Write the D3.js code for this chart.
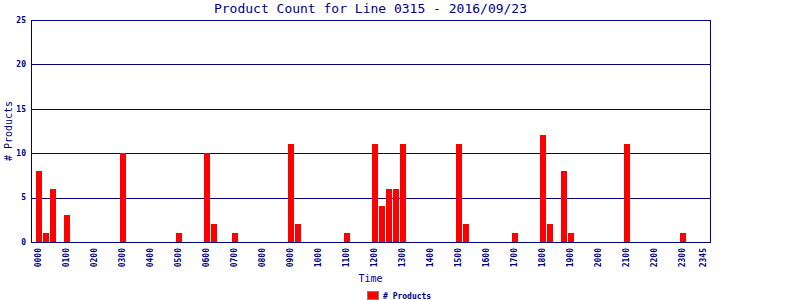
<!DOCTYPE html>
<html>
<head>
<meta charset="utf-8">
<script src="https://cdn.jsdelivr.net/npm/d3@7/dist/d3.min.js"></script>
<style>
  html, body { margin: 0; padding: 0; background: #fff; }
  svg { display: block; }
  text { font-family: "DejaVu Sans Mono", monospace; fill: #000080; }
</style>
</head>
<body>
<svg id="chart" width="800" height="300"></svg>
<script>
// ---- data ----
const title = "Product Count for Line 0315 - 2016/09/23";
const xTitle = "Time";
const yTitle = "# Products";
const seriesName = "# Products";
// 15-minute slots, 4 per hour, 0000 .. 2345
const products = [
  8, 1, 6, 0,   // 00
  3, 0, 0, 0,   // 01
  0, 0, 0, 0,   // 02
  10, 0, 0, 0,  // 03
  0, 0, 0, 0,   // 04
  1, 0, 0, 0,   // 05
  10, 2, 0, 0,  // 06
  1, 0, 0, 0,   // 07
  0, 0, 0, 0,   // 08
  11, 2, 0, 0,  // 09
  0, 0, 0, 0,   // 10
  1, 0, 0, 0,   // 11
  11, 4, 6, 6,  // 12
  11, 0, 0, 0,  // 13
  0, 0, 0, 0,   // 14
  11, 2, 0, 0,  // 15
  0, 0, 0, 0,   // 16
  1, 0, 0, 0,   // 17
  12, 2, 0, 8,  // 18
  1, 0, 0, 0,   // 19
  0, 0, 0, 0,   // 20
  11, 0, 0, 0,  // 21
  0, 0, 0, 0,   // 22
  1, 0, 0, 0    // 23
];
const xTickLabels = ["0000","0100","0200","0300","0400","0500","0600","0700","0800","0900",
  "1000","1100","1200","1300","1400","1500","1600","1700","1800","1900",
  "2000","2100","2200","2300","2345"];
const yTicks = [0, 5, 10, 15, 20, 25];

// ---- layout ----
const svg = d3.select("#chart");
const pL = 31, pR = 710, pT = 20, pB = 242;
const nSlots = products.length;
const x = d3.scaleLinear().domain([-1, nSlots]).range([pL, pR]);
const y = d3.scaleLinear().domain([0, 25]).range([pB, pT]);
const slotOf = s => (+s.slice(0, 2)) * 4 + (+s.slice(2)) / 15;
const navy = "#000080";

// grid lines
svg.append("g").selectAll("line").data(yTicks.filter(d => d > 0)).join("line")
  .attr("x1", pL).attr("x2", pR)
  .attr("y1", d => Math.round(y(d)) + 0.5).attr("y2", d => Math.round(y(d)) + 0.5)
  .attr("stroke", navy).attr("stroke-width", 1).attr("shape-rendering", "crispEdges");

// bars
svg.append("g").selectAll("rect").data(products.map((v, i) => ({ v, i })).filter(d => d.v > 0)).join("rect")
  .attr("x", d => Math.round(x(d.i)) - 2)
  .attr("width", 6)
  .attr("y", d => Math.round(y(d.v)))
  .attr("height", d => pB - Math.round(y(d.v)))
  .attr("fill", "#ff0000")
  .attr("shape-rendering", "crispEdges");

// frame: left, right, bottom, top
const frame = svg.append("g").attr("stroke", navy).attr("stroke-width", 1).attr("shape-rendering", "crispEdges");
frame.append("line").attr("x1", pL + 0.5).attr("x2", pL + 0.5).attr("y1", pT).attr("y2", pB + 1);
frame.append("line").attr("x1", pR + 0.5).attr("x2", pR + 0.5).attr("y1", pT).attr("y2", pB + 1);
frame.append("line").attr("x1", pL).attr("x2", pR + 1).attr("y1", pB + 0.5).attr("y2", pB + 0.5);
frame.append("line").attr("x1", pL).attr("x2", pR + 1).attr("y1", pT + 0.5).attr("y2", pT + 0.5);

// y tick labels
svg.append("g").selectAll("text").data(yTicks).join("text")
  .attr("x", pL - 5).attr("y", d => y(d)).attr("dy", "0.35em")
  .attr("text-anchor", "end")
  .attr("font-size", 8).attr("font-weight", "bold")
  .text(d => d);

// x tick labels (rotated)
svg.append("g").selectAll("text").data(xTickLabels).join("text")
  .attr("transform", d => `translate(${x(slotOf(d)) + 3},${pB + 6}) rotate(-90)`)
  .attr("text-anchor", "end")
  .attr("font-size", 8).attr("font-weight", "bold")
  .text(d => d);

// titles
svg.append("text").attr("x", (pL + pR) / 2).attr("y", 13)
  .attr("text-anchor", "middle").attr("font-size", 13).text(title);
svg.append("text").attr("x", (pL + pR) / 2).attr("y", 282)
  .attr("text-anchor", "middle").attr("font-size", 10).text(xTitle);
svg.append("text").attr("transform", `translate(12,${(pT + pB) / 2}) rotate(-90)`)
  .attr("text-anchor", "middle").attr("font-size", 10).text(yTitle);

// legend
svg.append("rect").attr("x", 367.5).attr("y", 291.5).attr("width", 11).attr("height", 8)
  .attr("fill", "#ff0000").attr("stroke", "#808080").attr("stroke-width", 1);
svg.append("text").attr("x", 383).attr("y", 298.5)
  .attr("font-size", 8).attr("font-weight", "bold").text(seriesName);
</script>
</body>
</html>
